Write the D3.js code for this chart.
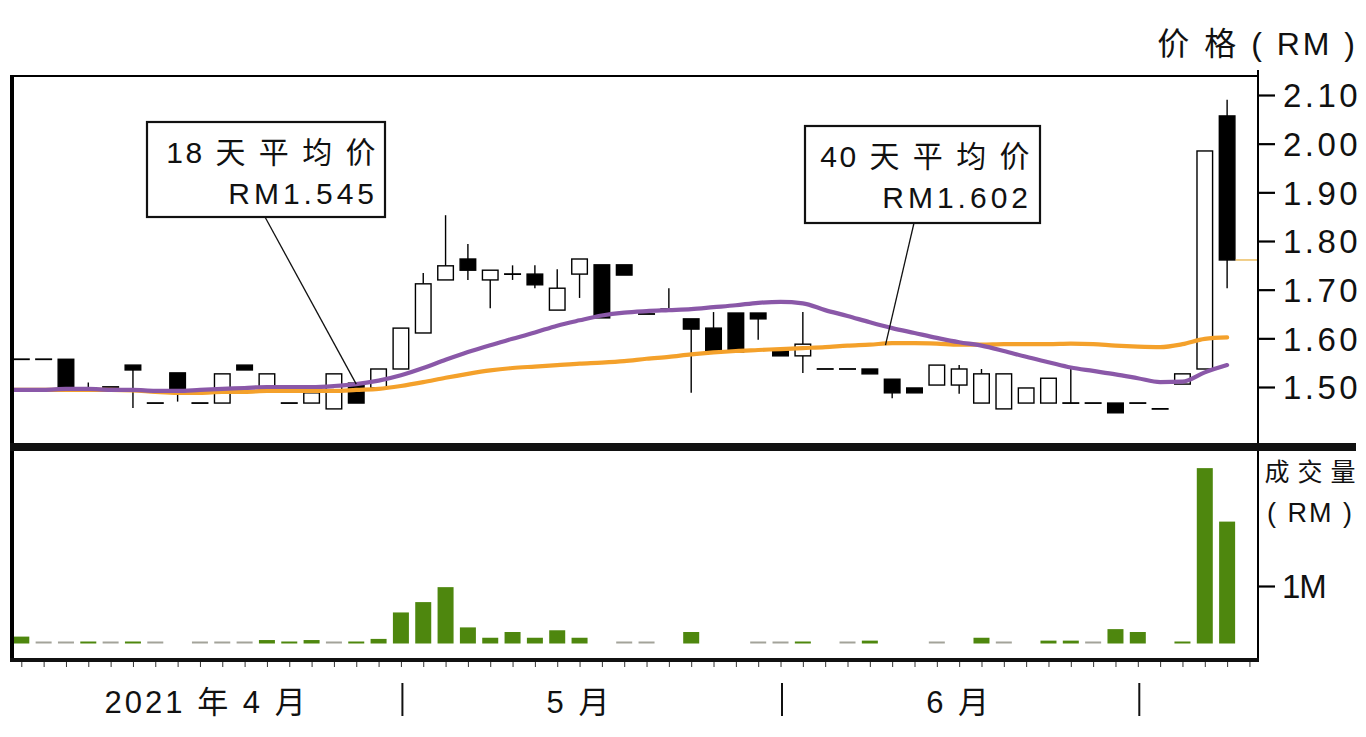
<!DOCTYPE html>
<html><head><meta charset="utf-8">
<script src="https://cdn.jsdelivr.net/npm/d3@7/dist/d3.min.js"></script>
<style>
html,body{margin:0;padding:0;background:#fff;}
svg{display:block;font-family:"Liberation Sans",Arial,"Noto Sans CJK SC",sans-serif;}
</style></head>
<body><svg id="c" width="1366" height="737"></svg>
<script>
// ---- data ----
const openP  = [1.557,1.557,1.557,1.498,1.500,1.545,1.467,1.529,1.467,1.467,1.545,1.498,1.467,1.467,1.455,1.508,1.498,1.537,1.611,1.720,1.763,1.720,1.732,1.732,1.658,1.732,1.751,1.751,1.650,1.660,1.640,1.621,1.652,1.652,1.574,1.564,1.537,1.537,1.537,1.516,1.498,1.504,1.504,1.467,1.455,1.467,1.467,1.467,1.467,1.467,1.467,1.455,1.506,1.537,2.057];
const highP  = [1.557,1.557,1.557,1.509,1.500,1.545,1.467,1.529,1.467,1.527,1.545,1.527,1.467,1.488,1.527,1.508,1.537,1.621,1.734,1.853,1.794,1.740,1.750,1.750,1.742,1.763,1.751,1.751,1.650,1.703,1.640,1.654,1.652,1.652,1.574,1.654,1.537,1.537,1.537,1.516,1.498,1.545,1.545,1.537,1.527,1.498,1.518,1.541,1.467,1.467,1.467,1.455,1.527,1.985,2.090];
const lowP   = [1.557,1.557,1.500,1.498,1.500,1.457,1.467,1.470,1.467,1.467,1.535,1.498,1.467,1.467,1.455,1.467,1.498,1.537,1.611,1.720,1.720,1.662,1.720,1.703,1.658,1.683,1.642,1.730,1.650,1.660,1.488,1.570,1.572,1.597,1.564,1.529,1.537,1.537,1.527,1.477,1.488,1.504,1.486,1.467,1.455,1.467,1.467,1.467,1.467,1.447,1.467,1.455,1.506,1.537,1.703];
const closeP = [1.557,1.557,1.500,1.498,1.500,1.535,1.467,1.496,1.467,1.527,1.535,1.527,1.467,1.488,1.527,1.467,1.537,1.621,1.712,1.749,1.740,1.740,1.732,1.710,1.703,1.763,1.642,1.730,1.650,1.660,1.619,1.570,1.572,1.640,1.564,1.588,1.537,1.537,1.527,1.488,1.488,1.545,1.537,1.527,1.527,1.498,1.518,1.467,1.467,1.447,1.467,1.455,1.527,1.985,1.761];
// volume in millions of RM (0 = none shown, 0.01 = hairline)
const volume = [0.12,0.01,0.01,0.03,0.01,0.03,0.01,0,0.01,0.01,0.01,0.06,0.03,0.06,0.01,0.03,0.08,0.54,0.72,0.98,0.28,0.10,0.20,0.10,0.23,0.10,0,0.01,0.01,0,0.20,0,0,0.01,0.01,0.03,0,0.01,0.05,0,0,0.01,0,0.10,0.01,0,0.05,0.05,0.01,0.25,0.20,0,0.02,3.05,2.12];
const ma18 = [1.494,1.494,1.496,1.496,1.494,1.494,1.492,1.492,1.494,1.496,1.498,1.500,1.500,1.500,1.502,1.506,1.513,1.524,1.539,1.556,1.572,1.586,1.599,1.612,1.626,1.637,1.647,1.653,1.656,1.658,1.660,1.664,1.668,1.673,1.675,1.672,1.658,1.646,1.633,1.621,1.611,1.601,1.592,1.585,1.574,1.562,1.551,1.540,1.533,1.526,1.518,1.510,1.511,1.530,1.545];
const ma40 = [1.494,1.494,1.494,1.494,1.494,1.493,1.490,1.488,1.488,1.490,1.490,1.492,1.492,1.492,1.492,1.494,1.496,1.502,1.510,1.519,1.527,1.534,1.539,1.542,1.545,1.548,1.550,1.553,1.558,1.562,1.567,1.571,1.574,1.576,1.578,1.580,1.582,1.585,1.587,1.590,1.590,1.589,1.587,1.587,1.588,1.588,1.588,1.589,1.588,1.585,1.583,1.582,1.588,1.599,1.602];
const priceTicks = [1.50,1.60,1.70,1.80,1.90,2.00,2.10];
const volTicks = [1];
const monthBreaks = [17, 34, 50];
const monthLabels = ["2021 年 4 月", "5 月", "6 月"];
const monthLabelPos = [8.3, 25, 42];
const ma18Label = ["18 天 平 均 价", "RM1.545"];
const ma40Label = ["40 天 平 均 价", "RM1.602"];

// ---- layout ----
const L = 12, R = 1258, T = 76, PB = 443, VT = 452, VB = 660;
const svg = d3.select("#c");
const x = d3.scaleLinear().domain([0, 55]).range([21.3, 21.3 + 22.33 * 55]);
const y = d3.scaleLinear().domain([1.5, 2.1]).range([387, 95]);
const yv = d3.scaleLinear().domain([0, 1]).range([643.5, 586]);
const cw = 17;

svg.append("defs").append("clipPath").attr("id","pc")
  .append("rect").attr("x",L).attr("y",T).attr("width",R-L).attr("height",PB-T);
svg.select("defs").append("clipPath").attr("id","vc")
  .append("rect").attr("x",L).attr("y",VT).attr("width",R-L).attr("height",VB-VT);

const data = openP.map((o,i)=>({i,o,h:highP[i],l:lowP[i],c:closeP[i],v:volume[i]}));

// candles
const cg = svg.append("g").attr("clip-path","url(#pc)");
data.forEach(d=>{
  const g = cg.append("g");
  const top = Math.max(d.o,d.c), bot = Math.min(d.o,d.c);
  if (d.h > top) g.append("line").attr("x1",x(d.i)).attr("x2",x(d.i)).attr("y1",y(d.h)).attr("y2",y(top)).attr("stroke","#000").attr("stroke-width",1.4);
  if (d.l < bot) g.append("line").attr("x1",x(d.i)).attr("x2",x(d.i)).attr("y1",y(bot)).attr("y2",y(d.l)).attr("stroke","#000").attr("stroke-width",1.4);
  if (Math.abs(d.o-d.c) < 0.0015) {
    g.append("line").attr("x1",x(d.i)-cw/2).attr("x2",x(d.i)+cw/2).attr("y1",y(d.c)).attr("y2",y(d.c)).attr("stroke","#000").attr("stroke-width",1.8);
  } else {
    const up = d.c > d.o;
    g.append("rect").attr("x",x(d.i)-cw/2+0.7).attr("width",cw-1.4)
      .attr("y",y(top)).attr("height",y(bot)-y(top))
      .attr("fill",up?"#fff":"#000").attr("stroke","#000").attr("stroke-width",1.4);
  }
});

// moving averages
const lg = svg.append("g").attr("clip-path","url(#pc)");
const maLine = d3.line().x((d,i)=>i===0?L:x(i-1)).y(d=>y(d)).curve(d3.curveMonotoneX);
lg.append("path").datum([ma40[0]].concat(ma40)).attr("d", maLine)
  .attr("fill","none").attr("stroke","#f4a12b").attr("stroke-width",4.2).attr("stroke-linecap","round");
lg.append("path").datum([ma18[0]].concat(ma18)).attr("d", maLine)
  .attr("fill","none").attr("stroke","#8a58a8").attr("stroke-width",4.2).attr("stroke-linecap","round");

// last price marker
const last = closeP[closeP.length-1];
svg.append("line").attr("x1",x(54)+cw/2).attr("x2",R).attr("y1",y(last)).attr("y2",y(last))
  .attr("stroke","#e9b54a").attr("stroke-width",1.3);

// volume
const vg = svg.append("g").attr("clip-path","url(#vc)");
data.filter(d=>d.v>0).forEach(d=>{
  const hair = d.v <= 0.015;
  const h = Math.max(2, yv(0)-yv(d.v));
  vg.append("rect").attr("x",x(d.i)-cw/2+0.5).attr("width",cw-1)
    .attr("y",yv(0)-h).attr("height",h)
    .attr("fill", hair ? "#a3a39a" : "#4e870e");
});

// frame
svg.append("line").attr("x1",L).attr("x2",R).attr("y1",T).attr("y2",T).attr("stroke","#000").attr("stroke-width",2);
svg.append("line").attr("x1",L).attr("x2",L).attr("y1",T-1).attr("y2",VB+2).attr("stroke","#000").attr("stroke-width",4);
svg.append("line").attr("x1",R).attr("x2",R).attr("y1",70).attr("y2",VB+2).attr("stroke","#000").attr("stroke-width",2);
svg.append("rect").attr("x",L-2).attr("y",PB).attr("width",1356-L+2).attr("height",8).attr("fill","#111");
svg.append("line").attr("x1",L-2).attr("x2",R+1).attr("y1",VB).attr("y2",VB).attr("stroke","#111").attr("stroke-width",4);

// bottom ticks
const bx = svg.append("g").attr("transform",`translate(0,${VB+2})`)
  .call(d3.axisBottom(x).tickValues(d3.range(56)).tickSize(5).tickFormat(""));
bx.select(".domain").remove();
bx.selectAll(".tick line").attr("stroke","#333").attr("stroke-width",1);

// price axis
const pa = svg.append("g").attr("transform",`translate(${R},0)`)
  .call(d3.axisRight(y).tickValues(priceTicks).tickSize(17).tickPadding(8).tickFormat(d3.format(".2f")));
pa.select(".domain").remove();
pa.selectAll(".tick line").attr("stroke","#000").attr("stroke-width",2.2);
pa.selectAll(".tick text").attr("font-size",33).attr("fill","#111").style("letter-spacing","3.5px")
  .attr("font-family","'Liberation Sans',Arial,sans-serif").attr("dy","0.36em");

// volume axis
const va = svg.append("g").attr("transform",`translate(${R},0)`)
  .call(d3.axisRight(yv).tickValues(volTicks).tickSize(17).tickPadding(7).tickFormat(()=>"1M"));
va.select(".domain").remove();
va.selectAll(".tick line").attr("stroke","#000").attr("stroke-width",2.2);
va.selectAll(".tick text").attr("font-size",33).attr("fill","#111").style("letter-spacing","-1px")
  .attr("font-family","'Liberation Sans',Arial,sans-serif").attr("dy","0.36em");

// axis titles
svg.append("text").attr("x",1358).attr("y",55).attr("text-anchor","end").attr("font-size",32).attr("fill","#111")
  .style("letter-spacing","3px").text("价 格 ( RM )");
svg.append("text").attr("x",1356).attr("y",481).attr("text-anchor","end").attr("font-size",25).attr("fill","#111")
  .style("letter-spacing","0.5px").text("成 交 量");
svg.append("text").attr("x",1354).attr("y",522).attr("text-anchor","end").attr("font-size",27).attr("fill","#111")
  .style("letter-spacing","2px").text("( RM )");

// month separators & labels
monthBreaks.forEach(b=>{
  svg.append("line").attr("x1",x(b)+1.5).attr("x2",x(b)+1.5).attr("y1",683).attr("y2",716).attr("stroke","#111").attr("stroke-width",2);
});
monthLabels.forEach((t,k)=>{
  svg.append("text").attr("x",x(monthLabelPos[k])).attr("y",713).attr("text-anchor","middle")
    .attr("font-size",31).attr("fill","#111").style("letter-spacing","3px").text(t);
});

// annotation boxes
function note(bx, by, bw, bh, lines, tx, anchorFrom, anchorTo) {
  svg.append("line").attr("x1",anchorFrom[0]).attr("y1",anchorFrom[1]).attr("x2",anchorTo[0]).attr("y2",anchorTo[1])
    .attr("stroke","#111").attr("stroke-width",1.3);
  svg.append("rect").attr("x",bx).attr("y",by).attr("width",bw).attr("height",bh)
    .attr("fill","#fff").attr("stroke","#111").attr("stroke-width",2.2);
  svg.append("text").attr("x",tx).attr("y",by+41).attr("text-anchor","end").attr("font-size",30).attr("fill","#111")
    .style("letter-spacing","2.5px").text(lines[0]);
  svg.append("text").attr("x",tx).attr("y",by+82).attr("text-anchor","end").attr("font-size",30).attr("fill","#111")
    .style("letter-spacing","4px").text(lines[1]);
}
note(147,122,238,95, ma18Label, 378, [265,217], [x(15), y(ma18[15])]);
note(805,126,235,97, ma40Label, 1032, [914,223], [x(38.7), y(1.586)]);
</script></body></html>
